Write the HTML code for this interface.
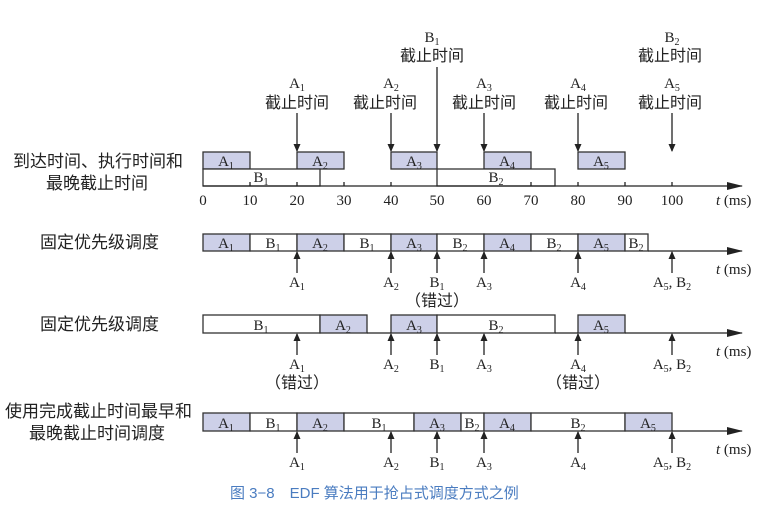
<!DOCTYPE html>
<html><head><meta charset="utf-8"><style>
body{margin:0;background:#fff}
svg{display:block}
text{font-family:"Liberation Serif","Noto Serif CJK SC",serif;font-size:15px;fill:#222}
.c{font-family:"Liberation Serif","Noto Sans CJK SC",sans-serif;font-size:16px}
.d{font-family:"Liberation Serif","Noto Sans CJK SC",sans-serif;font-size:17px}
.s{font-size:10px}
.a{fill:#cdd0e8;stroke:#333;stroke-width:1.3}
.b{fill:#fff;stroke:#333;stroke-width:1.3}
.l{stroke:#222;stroke-width:1.3;fill:none}
</style></head><body>
<svg width="769" height="512" viewBox="0 0 769 512" xmlns="http://www.w3.org/2000/svg">
<defs>
<marker id="ar" markerWidth="8" markerHeight="8" refX="7" refY="4" orient="auto" markerUnits="userSpaceOnUse"><path d="M0,0.5 L8,4 L0,7.5 z" fill="#222"/></marker>
<marker id="ah" markerWidth="16" markerHeight="10" refX="15" refY="5" orient="auto" markerUnits="userSpaceOnUse"><path d="M0,1 L16,5 L0,9 z" fill="#222"/></marker>
</defs>

<g text-anchor="middle">
<text x="297" y="88">A<tspan class="s" dy="3">1</tspan></text><text class="c" x="297" y="108">截止时间</text>
<text x="391" y="88">A<tspan class="s" dy="3">2</tspan></text><text class="c" x="385" y="108">截止时间</text>
<text x="484" y="88">A<tspan class="s" dy="3">3</tspan></text><text class="c" x="484" y="108">截止时间</text>
<text x="578" y="88">A<tspan class="s" dy="3">4</tspan></text><text class="c" x="576" y="108">截止时间</text>
<text x="672" y="88">A<tspan class="s" dy="3">5</tspan></text><text class="c" x="670" y="108">截止时间</text>
<text x="432" y="42">B<tspan class="s" dy="3">1</tspan></text><text class="c" x="432" y="61">截止时间</text>
<text x="672" y="42">B<tspan class="s" dy="3">2</tspan></text><text class="c" x="670" y="61">截止时间</text>
</g>
<g class="l">
<line x1="297" y1="113" x2="297" y2="151" marker-end="url(#ar)"/>
<line x1="391" y1="113" x2="391" y2="151" marker-end="url(#ar)"/>
<line x1="484" y1="113" x2="484" y2="151" marker-end="url(#ar)"/>
<line x1="578" y1="113" x2="578" y2="151" marker-end="url(#ar)"/>
<line x1="672" y1="113" x2="672" y2="151" marker-end="url(#ar)"/>
<line x1="437" y1="67" x2="437" y2="151" marker-end="url(#ar)"/>
</g>

<text class="d" x="13" y="167">到达时间、执行时间和</text>
<text class="d" x="46" y="189">最晚截止时间</text>
<rect class="a" x="203" y="152" width="47" height="17"/>
<rect class="a" x="297" y="152" width="47" height="17"/>
<rect class="a" x="391" y="152" width="46" height="17"/>
<rect class="a" x="484" y="152" width="47" height="17"/>
<rect class="a" x="578" y="152" width="47" height="17"/>
<rect class="b" x="203" y="169" width="117" height="17"/>
<rect class="b" x="437" y="169" width="118" height="17"/>
<g text-anchor="middle">
<text x="226" y="166">A<tspan class="s" dy="3">1</tspan></text>
<text x="320" y="166">A<tspan class="s" dy="3">2</tspan></text>
<text x="414" y="166">A<tspan class="s" dy="3">3</tspan></text>
<text x="507" y="166">A<tspan class="s" dy="3">4</tspan></text>
<text x="601" y="166">A<tspan class="s" dy="3">5</tspan></text>
<text x="261" y="182">B<tspan class="s" dy="3">1</tspan></text>
<text x="496" y="182">B<tspan class="s" dy="3">2</tspan></text>
</g>
<line class="l" x1="203" y1="186" x2="742" y2="186" marker-end="url(#ah)"/>
<g class="l"><line x1="250" y1="182" x2="250" y2="186"/><line x1="297" y1="182" x2="297" y2="186"/><line x1="344" y1="182" x2="344" y2="186"/><line x1="391" y1="182" x2="391" y2="186"/><line x1="531" y1="182" x2="531" y2="186"/><line x1="578" y1="182" x2="578" y2="186"/><line x1="625" y1="182" x2="625" y2="186"/><line x1="672" y1="182" x2="672" y2="186"/></g>
<g text-anchor="middle">
<text x="203" y="205">0</text><text x="250" y="205">10</text><text x="297" y="205">20</text><text x="344" y="205">30</text><text x="391" y="205">40</text><text x="437" y="205">50</text><text x="484" y="205">60</text><text x="531" y="205">70</text><text x="578" y="205">80</text><text x="625" y="205">90</text><text x="672" y="205">100</text>
</g>
<text x="716" y="205"><tspan font-style="italic">t</tspan> (ms)</text>

<text class="d" x="40" y="248">固定优先级调度</text>
<rect class="a" x="203" y="234" width="47" height="17"/>
<rect class="b" x="250" y="234" width="47" height="17"/>
<rect class="a" x="297" y="234" width="47" height="17"/>
<rect class="b" x="344" y="234" width="47" height="17"/>
<rect class="a" x="391" y="234" width="46" height="17"/>
<rect class="b" x="437" y="234" width="47" height="17"/>
<rect class="a" x="484" y="234" width="47" height="17"/>
<rect class="b" x="531" y="234" width="47" height="17"/>
<rect class="a" x="578" y="234" width="47" height="17"/>
<rect class="b" x="625" y="234" width="23" height="17"/>
<g text-anchor="middle">
<text x="226" y="248">A<tspan class="s" dy="3">1</tspan></text>
<text x="273" y="248">B<tspan class="s" dy="3">1</tspan></text>
<text x="320" y="248">A<tspan class="s" dy="3">2</tspan></text>
<text x="367" y="248">B<tspan class="s" dy="3">1</tspan></text>
<text x="414" y="248">A<tspan class="s" dy="3">3</tspan></text>
<text x="460" y="248">B<tspan class="s" dy="3">2</tspan></text>
<text x="507" y="248">A<tspan class="s" dy="3">4</tspan></text>
<text x="554" y="248">B<tspan class="s" dy="3">2</tspan></text>
<text x="601" y="248">A<tspan class="s" dy="3">5</tspan></text>
<text x="636" y="248">B<tspan class="s" dy="3">2</tspan></text>
</g>
<line class="l" x1="648" y1="251" x2="742" y2="251" marker-end="url(#ah)"/>
<g class="l">
<line x1="297" y1="273" x2="297" y2="252" marker-end="url(#ar)"/>
<line x1="391" y1="273" x2="391" y2="252" marker-end="url(#ar)"/>
<line x1="437" y1="273" x2="437" y2="252" marker-end="url(#ar)"/>
<line x1="484" y1="273" x2="484" y2="252" marker-end="url(#ar)"/>
<line x1="578" y1="273" x2="578" y2="252" marker-end="url(#ar)"/>
<line x1="672" y1="273" x2="672" y2="252" marker-end="url(#ar)"/>
</g>
<g text-anchor="middle">
<text x="297" y="287">A<tspan class="s" dy="3">1</tspan></text>
<text x="391" y="287">A<tspan class="s" dy="3">2</tspan></text>
<text x="437" y="287">B<tspan class="s" dy="3">1</tspan></text>
<text x="484" y="287">A<tspan class="s" dy="3">3</tspan></text>
<text x="578" y="287">A<tspan class="s" dy="3">4</tspan></text>
<text x="672" y="287">A<tspan class="s" dy="3">5</tspan><tspan dy="-3">, B</tspan><tspan class="s" dy="3">2</tspan></text>
<text class="c" x="437" y="306">（错过）</text>
</g>
<text x="716" y="274"><tspan font-style="italic">t</tspan> (ms)</text>

<text class="d" x="40" y="330">固定优先级调度</text>
<rect class="b" x="203" y="315" width="117" height="18"/>
<rect class="a" x="320" y="315" width="47" height="18"/>
<rect class="a" x="391" y="315" width="46" height="18"/>
<rect class="b" x="437" y="315" width="118" height="18"/>
<rect class="a" x="578" y="315" width="47" height="18"/>
<g text-anchor="middle">
<text x="261" y="330">B<tspan class="s" dy="3">1</tspan></text>
<text x="343" y="330">A<tspan class="s" dy="3">2</tspan></text>
<text x="414" y="330">A<tspan class="s" dy="3">3</tspan></text>
<text x="496" y="330">B<tspan class="s" dy="3">2</tspan></text>
<text x="601" y="330">A<tspan class="s" dy="3">5</tspan></text>
</g>
<line class="l" x1="367" y1="333" x2="391" y2="333"/>
<line class="l" x1="555" y1="333" x2="578" y2="333"/>
<line class="l" x1="625" y1="333" x2="742" y2="333" marker-end="url(#ah)"/>
<g class="l">
<line x1="297" y1="355" x2="297" y2="334" marker-end="url(#ar)"/>
<line x1="391" y1="355" x2="391" y2="334" marker-end="url(#ar)"/>
<line x1="437" y1="355" x2="437" y2="334" marker-end="url(#ar)"/>
<line x1="484" y1="355" x2="484" y2="334" marker-end="url(#ar)"/>
<line x1="578" y1="355" x2="578" y2="334" marker-end="url(#ar)"/>
<line x1="672" y1="355" x2="672" y2="334" marker-end="url(#ar)"/>
</g>
<g text-anchor="middle">
<text x="297" y="369">A<tspan class="s" dy="3">1</tspan></text>
<text x="391" y="369">A<tspan class="s" dy="3">2</tspan></text>
<text x="437" y="369">B<tspan class="s" dy="3">1</tspan></text>
<text x="484" y="369">A<tspan class="s" dy="3">3</tspan></text>
<text x="578" y="369">A<tspan class="s" dy="3">4</tspan></text>
<text x="672" y="369">A<tspan class="s" dy="3">5</tspan><tspan dy="-3">, B</tspan><tspan class="s" dy="3">2</tspan></text>
<text class="c" x="297" y="388">（错过）</text>
<text class="c" x="578" y="388">（错过）</text>
</g>
<text x="716" y="356"><tspan font-style="italic">t</tspan> (ms)</text>

<text class="d" x="5" y="417">使用完成截止时间最早和</text>
<text class="d" x="29" y="439">最晚截止时间调度</text>
<rect class="a" x="203" y="413" width="47" height="18"/>
<rect class="b" x="250" y="413" width="47" height="18"/>
<rect class="a" x="297" y="413" width="47" height="18"/>
<rect class="b" x="344" y="413" width="70" height="18"/>
<rect class="a" x="414" y="413" width="47" height="18"/>
<rect class="b" x="461" y="413" width="23" height="18"/>
<rect class="a" x="484" y="413" width="47" height="18"/>
<rect class="b" x="531" y="413" width="94" height="18"/>
<rect class="a" x="625" y="413" width="47" height="18"/>
<g text-anchor="middle">
<text x="226" y="428">A<tspan class="s" dy="3">1</tspan></text>
<text x="273" y="428">B<tspan class="s" dy="3">1</tspan></text>
<text x="320" y="428">A<tspan class="s" dy="3">2</tspan></text>
<text x="379" y="428">B<tspan class="s" dy="3">1</tspan></text>
<text x="437" y="428">A<tspan class="s" dy="3">3</tspan></text>
<text x="472" y="428">B<tspan class="s" dy="3">2</tspan></text>
<text x="507" y="428">A<tspan class="s" dy="3">4</tspan></text>
<text x="578" y="428">B<tspan class="s" dy="3">2</tspan></text>
<text x="648" y="428">A<tspan class="s" dy="3">5</tspan></text>
</g>
<line class="l" x1="672" y1="431" x2="742" y2="431" marker-end="url(#ah)"/>
<g class="l">
<line x1="297" y1="453" x2="297" y2="432" marker-end="url(#ar)"/>
<line x1="391" y1="453" x2="391" y2="432" marker-end="url(#ar)"/>
<line x1="437" y1="453" x2="437" y2="432" marker-end="url(#ar)"/>
<line x1="484" y1="453" x2="484" y2="432" marker-end="url(#ar)"/>
<line x1="578" y1="453" x2="578" y2="432" marker-end="url(#ar)"/>
<line x1="672" y1="453" x2="672" y2="432" marker-end="url(#ar)"/>
</g>
<g text-anchor="middle">
<text x="297" y="467">A<tspan class="s" dy="3">1</tspan></text>
<text x="391" y="467">A<tspan class="s" dy="3">2</tspan></text>
<text x="437" y="467">B<tspan class="s" dy="3">1</tspan></text>
<text x="484" y="467">A<tspan class="s" dy="3">3</tspan></text>
<text x="578" y="467">A<tspan class="s" dy="3">4</tspan></text>
<text x="672" y="467">A<tspan class="s" dy="3">5</tspan><tspan dy="-3">, B</tspan><tspan class="s" dy="3">2</tspan></text>
</g>
<text x="716" y="454"><tspan font-style="italic">t</tspan> (ms)</text>

<text x="230" y="498" style="font-family:'Liberation Sans','Noto Sans CJK SC',sans-serif;font-size:15px;fill:#4a7cc0">图 3−8　EDF 算法用于抢占式调度方式之例</text>
</svg>
</body></html>
